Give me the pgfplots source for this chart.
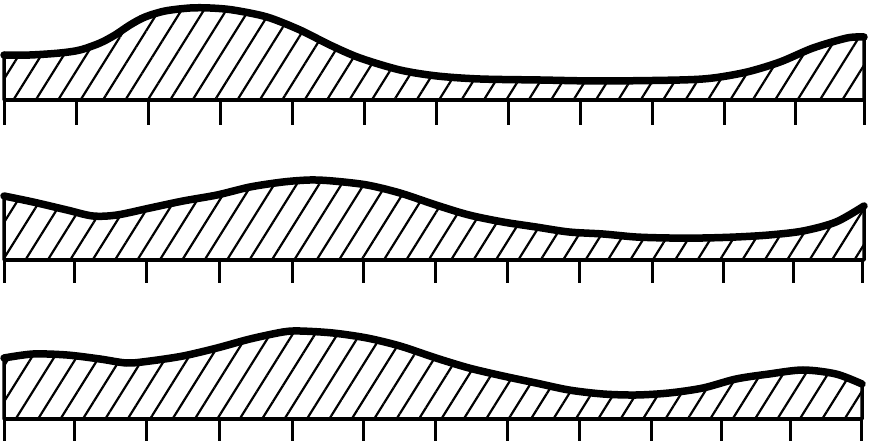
\documentclass[border=0pt]{standalone}
\usepackage{pgfplots}
\pgfplotsset{compat=1.18}
\usetikzlibrary{patterns.meta}
\pgfplotsset{
  panel/.style={scale only axis, width=872pt, height=148pt, xmin=0, xmax=872,
    hide axis, enlargelimits=false, clip=false, anchor=south west},
  hatch/.style={draw=black, line width=3.5pt, line join=round,
    pattern={Lines[angle=58,distance=19pt,line width=2.2pt]}},
  curve/.style={black, line width=7.5pt, smooth, line cap=round},
  base/.style={black, line width=4pt},
  tk/.style={black, line width=3pt, ycomb, mark=none},
}
\begin{document}
\begin{tikzpicture}[x=1pt,y=1pt]
\path[use as bounding box] (0,0) rectangle (872,444);
% Panel 1
\begin{axis}[panel, at={(0,296)}, ymin=-48, ymax=100]
\addplot[hatch, smooth] coordinates {(4,45)(30,45)(60,47)(80,50)(100,57)(115,65)(130,75)(145,83)(165,89)(190,92)(210,92)(233,90)(267,83)(300,70)(330,55)(360,42)(400,30)(437,24)(480,21)(540,20)(600,19)(680,20)(713,22)(747,28)(780,38)(813,52)(847,62)(864,63)} \closedcycle;
\addplot[curve] coordinates {(4,45)(30,45)(60,47)(80,50)(100,57)(115,65)(130,75)(145,83)(165,89)(190,92)(210,92)(233,90)(267,83)(300,70)(330,55)(360,42)(400,30)(437,24)(480,21)(540,20)(600,19)(680,20)(713,22)(747,28)(780,38)(813,52)(847,62)(864,63)};
\addplot[base] coordinates {(4,0)(864,0)};
\addplot[tk] coordinates {(4,-25)(76,-25)(148,-25)(220,-25)(292,-25)(364,-25)(436,-25)(508,-25)(580,-25)(652,-25)(724,-25)(795,-25)(864,-25)};
\end{axis}
% Panel 2
\begin{axis}[panel, at={(0,148)}, ymin=-36, ymax=112]
\addplot[hatch, smooth] coordinates {(4,64)(33,58)(67,50)(93,44)(117,45)(150,52)(183,59)(217,65)(250,73)(283,78)(310,80)(333,79)(367,75)(400,67)(436,55)(469,45)(503,38)(536,33)(569,28)(603,26)(636,23)(669,22)(703,22)(736,23)(769,25)(803,29)(836,38)(864,54)} \closedcycle;
\addplot[curve] coordinates {(4,64)(33,58)(67,50)(93,44)(117,45)(150,52)(183,59)(217,65)(250,73)(283,78)(310,80)(333,79)(367,75)(400,67)(436,55)(469,45)(503,38)(536,33)(569,28)(603,26)(636,23)(669,22)(703,22)(736,23)(769,25)(803,29)(836,38)(864,54)};
\addplot[base] coordinates {(4,0)(864,0)};
\addplot[tk] coordinates {(4,-23)(74,-23)(146,-23)(219,-23)(292,-23)(363,-23)(435,-23)(507,-23)(579,-23)(652,-23)(723,-23)(793,-23)(862,-23)};
\end{axis}
% Panel 3
\begin{axis}[panel, at={(0,0)}, ymin=-25, ymax=123]
\addplot[hatch, smooth] coordinates {(4,61)(33,65)(67,64)(100,60)(127,56)(150,58)(183,63)(217,71)(250,80)(283,87)(300,88)(333,86)(367,81)(400,73)(436,61)(469,51)(503,43)(536,36)(569,29)(603,25)(636,24)(669,26)(703,31)(736,40)(769,45)(803,49)(836,45)(862,35)} \closedcycle;
\addplot[curve] coordinates {(4,61)(33,65)(67,64)(100,60)(127,56)(150,58)(183,63)(217,71)(250,80)(283,87)(300,88)(333,86)(367,81)(400,73)(436,61)(469,51)(503,43)(536,36)(569,29)(603,25)(636,24)(669,26)(703,31)(736,40)(769,45)(803,49)(836,45)(862,35)};
\addplot[base] coordinates {(4,0)(862,0)};
\addplot[tk] coordinates {(4,-22)(74,-22)(146,-22)(219,-22)(292,-22)(363,-22)(435,-22)(507,-22)(579,-22)(651,-22)(721,-22)(790,-22)(861,-22)};
\end{axis}
\end{tikzpicture}
\end{document}
